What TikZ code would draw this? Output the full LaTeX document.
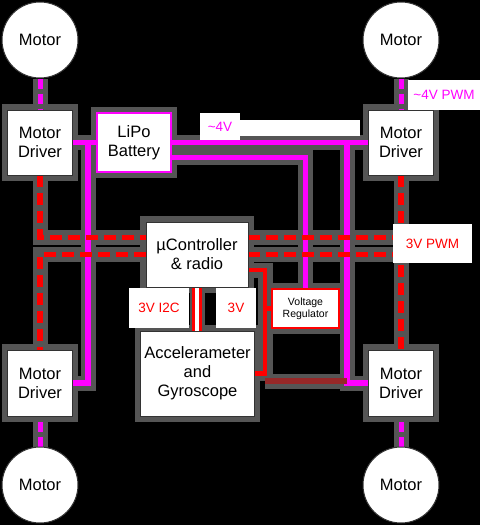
\documentclass[tikz,border=0pt]{standalone}
\usepackage{fontspec}
\setmainfont{Liberation Sans}
\pgfdeclarelayer{halo}
\pgfdeclarelayer{wire}
\pgfsetlayers{halo,wire,main}
\definecolor{power}{RGB}{255,0,255}
\definecolor{sig}{RGB}{255,0,0}
\definecolor{ground}{RGB}{150,40,40}
\definecolor{halogray}{RGB}{85,85,85}
% wire with its grey halo underneath
\newcommand{\conn}[2]{%
  \begin{pgfonlayer}{halo}\draw[halo] #2;\end{pgfonlayer}%
  \begin{pgfonlayer}{wire}\draw[#1] #2;\end{pgfonlayer}}

\begin{document}
\begin{tikzpicture}[x=1pt, y=-1pt,
    motor/.style={circle, fill=white, draw=black!80, line width=1pt, minimum size=76pt, inner sep=0pt, font=\fontsize{16.5}{19}\selectfont},
    unit/.style={rectangle, fill=white, draw=black!80, line width=0.8pt, align=center, inner sep=0pt, font=\fontsize{16.5}{19}\selectfont},
    tag/.style={rectangle, fill=white, inner sep=0pt, font=\fontsize{13.5}{16}\selectfont},
    halo/.style={draw=halogray, line width=15pt},
    pwr/.style={draw=power, line width=5.5pt},
    drive/.style={draw=power, line width=5pt, dash pattern=on 10pt off 5pt},
    pwm/.style={draw=sig, line width=5.5pt, dash pattern=on 12pt off 6pt},
    supply/.style={draw=sig, line width=4.5pt},
    bus/.style={draw=sig, line width=3.3pt, double=white, double distance=4pt},
    gnd/.style={draw=ground, line width=6pt}]
\useasboundingbox (0,0) rectangle (480,525);
\begin{pgfonlayer}{halo}
\fill[black] (0,0) rectangle (480,525);
\end{pgfonlayer}

% motors
\node[motor] (motTL) at (40,40) {Motor};
\node[motor] (motTR) at (401,40) {Motor};
\node[motor] (motBL) at (40,485) {Motor};
\node[motor] (motBR) at (401,485) {Motor};

% boards
\node[unit, minimum width=65pt, minimum height=65pt] (drvTL) at (40,142.5) {Motor\\Driver};
\node[unit, minimum width=65pt, minimum height=65pt] (drvTR) at (401,142.5) {Motor\\Driver};
\node[unit, minimum width=65pt, minimum height=66pt] (drvBL) at (40,383) {Motor\\Driver};
\node[unit, minimum width=65pt, minimum height=66pt] (drvBR) at (401,383) {Motor\\Driver};
\node[unit, draw=power, line width=1.5pt, minimum width=74pt, minimum height=59pt] (bat) at (134,142.5) {LiPo\\Battery};
\node[unit, minimum width=102pt, minimum height=65pt] (mcu) at (197,254.5) {µController\\\& radio};
\node[unit, minimum width=114pt, minimum height=85pt] (imu) at (197.5,373.5) {Accelerameter\\and\\Gyroscope};
\node[unit, draw=sig, line width=1.5pt, minimum width=67pt, minimum height=39pt, font=\fontsize{10.5}{12}\selectfont] (vreg) at (305.5,308.5) {Voltage\\Regulator};

% labels
\node[tag, minimum width=72pt, minimum height=30pt, text=power] (lblDrive) at (444,95) {\textasciitilde4V PWM};
\fill[white] (240,120) rectangle (360,136);
\node[tag, minimum width=40pt, minimum height=27pt, text=power] (lblPower) at (220,126.5) {\textasciitilde4V};
\node[tag, minimum width=79pt, minimum height=39pt, text=sig] (lblPwm) at (432.5,243.5) {3V PWM};
\node[tag, minimum width=60pt, minimum height=40pt, text=sig] (lblI2c) at (159,308) {3V I2C};
\node[tag, minimum width=40pt, minimum height=40pt, text=sig] (lblVcc) at (236,308) {3V};

\begin{pgfonlayer}{halo}
\foreach \n in {drvTL,drvTR,drvBL,drvBR,bat,mcu,imu,vreg}
  \draw[halo, line width=11pt] (\n.south west) rectangle (\n.north east);
\end{pgfonlayer}

\coordinate (jl) at (88,142.5);
\coordinate (jr) at (347,142.5);
\coordinate (rail) at (265,373.5);
\coordinate (gnd) at (265,381);

% power
\conn{pwr}{(bat.west) -- (drvTL.east)}
\conn{pwr}{(jl) |- (drvBL.east)}
\conn{pwr}{(bat.east) -- (drvTR.west)}
\conn{pwr}{(jr) |- (drvBR.west)}
\conn{pwr}{([yshift=-15pt]bat.east) -| (vreg.north)}
\conn{gnd}{(gnd) -- (gnd -| jr)}
\conn{supply}{([yshift=-15.5pt]mcu.east) -| (rail) -- (imu.east)}
\conn{supply}{(vreg.west) -- (vreg.west -| rail)}
\conn{bus}{(mcu.south) -- (mcu.south |- imu.north)}

% pwm
\conn{pwm}{(drvTL) |- ([yshift=17pt]mcu.west)}
\conn{pwm}{(mcu.west) -| (drvBL)}
\conn{pwm}{(drvTR) -- (drvBR)}
\conn{pwm}{([yshift=17pt]mcu.east) -- ++(153,0)}
\conn{pwm}{(mcu.east) -- ++(153,0)}
\foreach \m/\d in {motTL/drvTL,motTR/drvTR,motBL/drvBL,motBR/drvBR}
  {\conn{drive}{(\m) -- (\d)}}
\end{tikzpicture}
\end{document}
